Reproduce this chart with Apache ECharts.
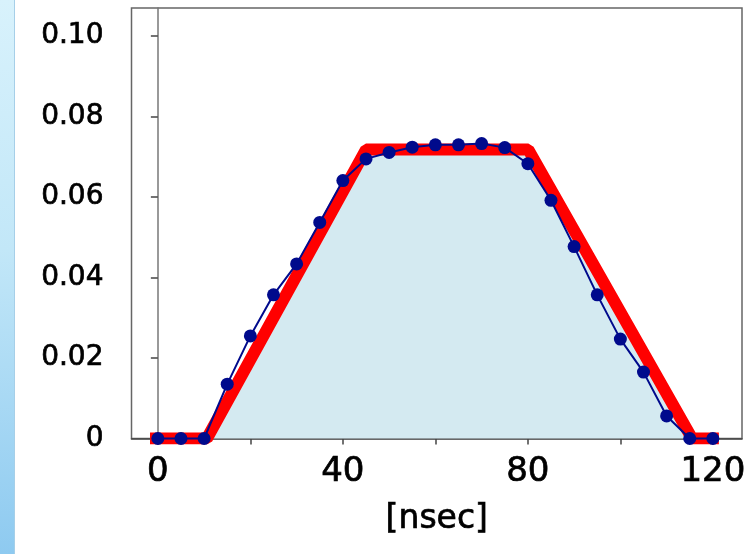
<!DOCTYPE html>
<html>
<head>
<meta charset="utf-8">
<script src="https://cdn.jsdelivr.net/npm/echarts@6/dist/echarts.min.js"></script>
<style>
html,body{margin:0;padding:0;background:#fff;}
#strip{position:absolute;left:0;top:0;width:14px;height:554px;background:linear-gradient(to bottom,#d8f2fc 0%,#c2e7f8 45%,#8ecaf0 100%);border-right:1px solid #a6cfe8;}
#chart{position:absolute;left:0;top:0;width:752px;height:554px;}
</style>
</head>
<body>
<div id="strip"></div>
<div id="chart"></div>
<script>
// Red (thick) trapezoid: corner points [nsec, value]
const redX = [-1.7, 10.6, 45.0, 80.1, 115.5, 121.3];
const redY = [0, 0, 0.0718, 0.0718, 0, 0];
// Blue measured points
const blueX = [0,5,10,15,20,25,30,35,40,45,50,55,60,65,70,75,80,85,90,95,100,105,110,115,120];
const blueY = [0,0,0,0.0135,0.0255,0.0357,0.0434,0.0537,0.0641,0.0695,0.0711,0.0724,0.0730,0.0730,0.0733,0.0723,0.0683,0.0592,0.0477,0.0357,0.0247,0.0165,0.0056,0,0];
// Tick values
const xTicks = [0,20,40,60,80,100,120];
const xLabels = [0,40,80,120];
const yTicks = [0,0.02,0.04,0.06,0.08,0.10];
const xName = '[nsec]';

const chart = echarts.init(document.getElementById('chart'), null, {renderer:'canvas'});
const font = 'DejaVu Sans';
const txt = {fontFamily:font, color:'#000', textBorderColor:'#000', textBorderWidth:0.7};
chart.setOption({
  backgroundColor: 'transparent',
  animation: false,
  grid: {left:131.5, right:10, top:8, bottom:115.5, show:true, borderColor:'#666', borderWidth:1.5, backgroundColor:'transparent'},
  xAxis: {
    type:'value', min:-5.7, max:126.3,
    name: xName, nameLocation:'middle', nameGap:64,
    nameTextStyle:Object.assign({fontSize:33}, txt),
    axisLine:{show:true, onZero:false, lineStyle:{color:'#444', width:1.5}},
    axisTick:{show:true, inside:false, length:6, customValues:xTicks, lineStyle:{color:'#444', width:1.5}},
    axisLabel:Object.assign({customValues:xLabels, fontSize:34, margin:17}, txt),
    splitLine:{show:false}
  },
  yAxis: {
    type:'value', min:0, max:0.107,
    axisLine:{show:true, lineStyle:{color:'#777', width:1.5}},
    axisTick:{show:true, inside:false, length:7, customValues:yTicks, lineStyle:{color:'#444', width:1.5}},
    axisLabel:Object.assign({customValues:yTicks, fontSize:28, margin:28,
      formatter: v => v === 0 ? '0' : v.toFixed(2)}, txt),
    splitLine:{show:false}
  },
  series: [
    {
      type:'line', data: redX.map((x,i)=>[x, redY[i]]),
      symbol:'none', z:2,
      lineStyle:{color:'#ff0000', width:12},
      areaStyle:{color:'#d4eaf1', opacity:1},
      clip:true
    },
    {
      type:'line', data: blueX.map((x,i)=>[x, blueY[i]]),
      symbol:'circle', symbolSize:13, z:3,
      itemStyle:{color:'#000a8c'},
      lineStyle:{color:'#000a8c', width:2},
      clip:false
    }
  ]
});
</script>
</body>
</html>
